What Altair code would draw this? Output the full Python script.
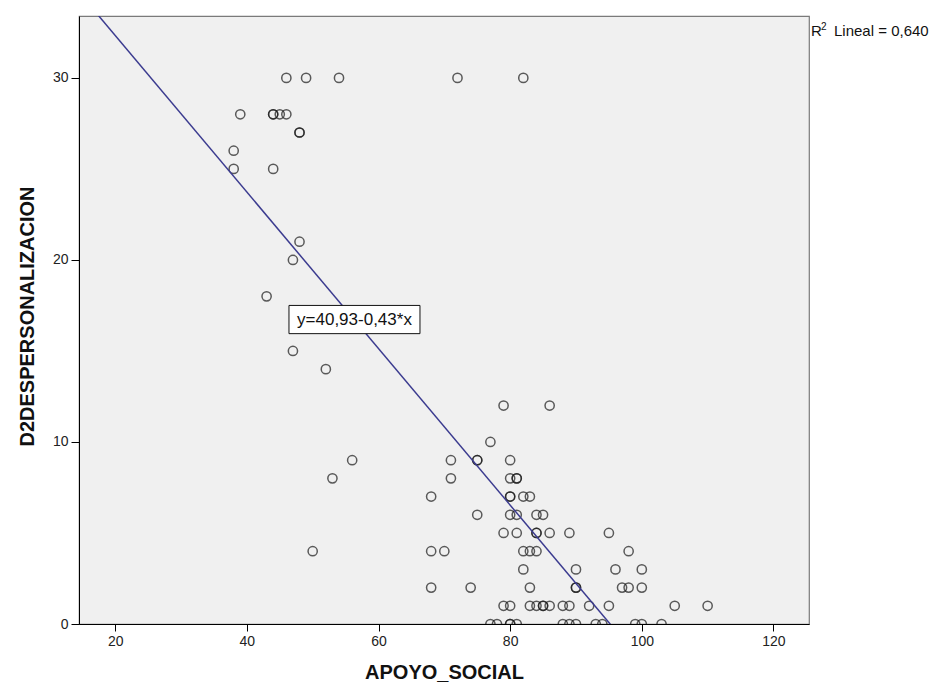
import altair as alt
import pandas as pd

# ---- data ----
apoyo_social = [
    46, 49, 54, 72, 82,            # y=30
    39, 44, 44, 45, 46,            # y=28
    48, 48,                        # y=27
    38,                            # y=26
    38, 44,                        # y=25
    48,                            # y=21
    47,                            # y=20
    43,                            # y=18
    47,                            # y=15
    52,                            # y=14
    79, 86,                        # y=12
    77,                            # y=10
    56, 71, 75, 75, 80,            # y=9
    53, 71, 80, 81, 81,            # y=8
    68, 80, 80, 82, 83,            # y=7
    75, 80, 81, 84, 85,            # y=6
    79, 81, 84, 84, 86, 89, 95,    # y=5
    50, 68, 70, 82, 83, 84, 98,    # y=4
    82, 90, 96, 100,               # y=3
    68, 74, 83, 90, 90, 97, 98, 100,   # y=2
    79, 80, 83, 84, 85, 85, 86, 88, 89, 92, 95, 105, 110,  # y=1
    77, 78, 80, 80, 81, 88, 89, 90, 93, 94, 99, 100, 103,  # y=0
]
d2_despersonalizacion = (
    [30] * 5 + [28] * 5 + [27] * 2 + [26] + [25] * 2 + [21] + [20] + [18] + [15] + [14]
    + [12] * 2 + [10] + [9] * 5 + [8] * 5 + [7] * 5 + [6] * 5 + [5] * 7 + [4] * 7
    + [3] * 4 + [2] * 8 + [1] * 13 + [0] * 13
)

fit_intercept = 40.93
fit_slope = -0.43
fit_label = "y=40,93-0,43*x"
fit_label_box_x = [46.4, 66.3]
fit_label_box_y = [15.95, 17.5]
r2_parts = ["R", "2", "Lineal = 0,640"]

x_ticks = [20, 40, 60, 80, 100, 120]
y_ticks = [0, 10, 20, 30]
x_domain = [14.5, 125.4]
y_domain = [0, 33.4]

X = "APOYO_SOCIAL"
Y = "D2DESPERSONALIZACION"

df = pd.DataFrame({X: apoyo_social, Y: d2_despersonalizacion})
line_df = pd.DataFrame({X: x_domain, Y: [fit_intercept + fit_slope * v for v in x_domain]})
box_df = pd.DataFrame({
    "x": [fit_label_box_x[0]], "x2": [fit_label_box_x[1]],
    "y": [fit_label_box_y[0]], "y2": [fit_label_box_y[1]],
    "xm": [sum(fit_label_box_x) / 2], "ym": [sum(fit_label_box_y) / 2],
    "t": [fit_label],
})

FONT = "Liberation Sans"
xs = alt.Scale(domain=x_domain, nice=False, zero=False)
ys = alt.Scale(domain=y_domain, nice=False, zero=False)

x_axis = alt.Axis(
    values=x_ticks, grid=False, tickSize=7, tickColor="black", domainColor="black",
    labelFontSize=14, labelFont=FONT, labelColor="#222222", labelPadding=3,
    labelFlush=False, title=X, titleFontSize=20, titleFont=FONT, titleFontWeight="bold",
    titleColor="#111111", titleY=38, titleBaseline="top",
)
y_axis = alt.Axis(
    values=y_ticks, grid=False, tickSize=8, tickColor="black", domainColor="black",
    labelFontSize=14, labelFont=FONT, labelColor="#222222", labelPadding=3,
    labelFlush=False, title=Y, titleFontSize=20, titleFont=FONT, titleFontWeight="bold",
    titleColor="#111111", titleX=-42, titleY=300, titleAngle=270, titleBaseline="bottom",
)

points = alt.Chart(df).mark_point(
    shape="circle", filled=False, size=85, strokeWidth=1.5, color="#1a1a1a", clip=True
).encode(
    x=alt.X(f"{X}:Q", scale=xs, axis=x_axis),
    y=alt.Y(f"{Y}:Q", scale=ys, axis=y_axis),
)

fit_line = alt.Chart(line_df).mark_line(color="#3b3b8f", strokeWidth=1.5, clip=True).encode(
    x=alt.X(f"{X}:Q", scale=xs),
    y=alt.Y(f"{Y}:Q", scale=ys),
)

box = alt.Chart(box_df).mark_rect(fill="white", stroke="#111111", strokeWidth=1).encode(
    x=alt.X("x:Q", scale=xs), x2="x2:Q",
    y=alt.Y("y:Q", scale=ys), y2="y2:Q",
)
box_text = alt.Chart(box_df).mark_text(
    font=FONT, fontSize=17, color="#111111", align="center", baseline="middle"
).encode(
    x=alt.X("xm:Q", scale=xs), y=alt.Y("ym:Q", scale=ys), text="t:N",
)

r_txt = alt.Chart(pd.DataFrame({"t": [r2_parts[0]]})).mark_text(
    font=FONT, fontSize=15, color="#111111", align="left", baseline="alphabetic"
).encode(x=alt.value(732), y=alt.value(20), text="t:N")
sup_txt = alt.Chart(pd.DataFrame({"t": [r2_parts[1]]})).mark_text(
    font=FONT, fontSize=10, color="#111111", align="left", baseline="alphabetic"
).encode(x=alt.value(742), y=alt.value(14), text="t:N")
lin_txt = alt.Chart(pd.DataFrame({"t": [r2_parts[2]]})).mark_text(
    font=FONT, fontSize=15, color="#111111", align="left", baseline="alphabetic"
).encode(x=alt.value(755), y=alt.value(20), text="t:N")

chart = alt.layer(points, fit_line, box, box_text, r_txt, sup_txt, lin_txt).properties(
    width=730, height=608,
    autosize=alt.AutoSizeParams(type="none"),
    padding={"left": 79, "top": 16, "right": 128, "bottom": 61},
    background="white",
).configure_view(
    fill="#f0f0f0", stroke="#7a7a7a", strokeWidth=1.2,
)

chart.save("out.html", embed_options={"renderer": "svg", "actions": False})
